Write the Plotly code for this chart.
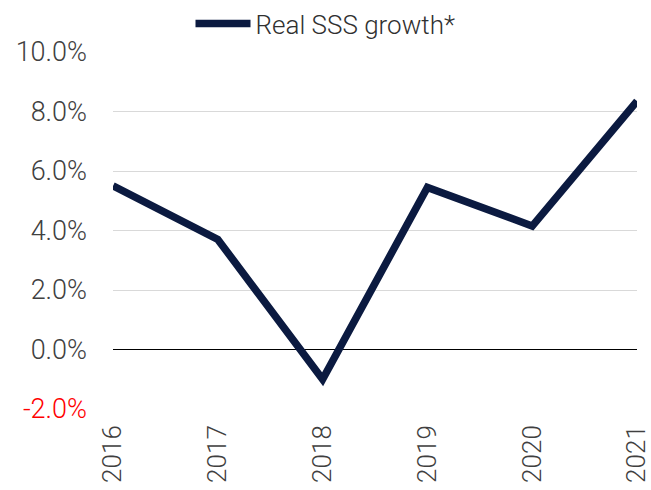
import plotly.graph_objs as go

years = ['2016', '2017', '2018', '2019', '2020', '2021']
real_sss_growth = [5.5, 3.7, -1.0, 5.45, 4.15, 8.35]

y_ticks = [-2, 0, 2, 4, 6, 8, 10]
y_ticktext = ['<span style="color:#ff0000">-2.0%</span>', '0.0%', '2.0%', '4.0%',
              '6.0%', '8.0%', '10.0%']

font_family = 'Roboto, Liberation Sans, Arial, sans-serif'

trace = go.Scatter(
    x=list(range(len(years))),
    y=real_sss_growth,
    mode='lines',
    name='Real SSS growth*',
    line=dict(color='#0b1a40', width=7.5),
)

layout = go.Layout(
    width=651,
    height=490,
    margin=dict(l=113, r=14, t=52, b=81),
    paper_bgcolor='white',
    plot_bgcolor='white',
    font=dict(family=font_family, size=26, color='#404040', weight=300),
    showlegend=True,
    legend=dict(
        orientation='h',
        x=0.5,
        xref='container',
        xanchor='center',
        y=1.0,
        yref='container',
        yanchor='top',
        font=dict(size=26, color='#303030', weight=300),
        itemwidth=55,
        bgcolor='rgba(0,0,0,0)',
    ),
    xaxis=dict(
        tickmode='array',
        tickvals=list(range(len(years))),
        ticktext=years,
        tickangle=-90,
        range=[0, len(years) - 1],
        showgrid=False,
        zeroline=False,
        showline=False,
        ticks='',
        ticklabelstandoff=10,
        ticklabeloverflow='allow',
        automargin=False,
    ),
    yaxis=dict(
        tickmode='array',
        tickvals=y_ticks,
        ticktext=y_ticktext,
        range=[-2, 10],
        showgrid=True,
        gridcolor='#d9d9d9',
        gridwidth=1,
        zeroline=True,
        zerolinecolor='#000000',
        zerolinewidth=1,
        showline=False,
        ticks='',
        tickfont=dict(size=27),
        ticklabelstandoff=25,
        automargin=False,
    ),
)

fig = go.Figure(data=[trace], layout=layout)
fig.write_html("out.html", config={'displayModeBar': False},
               post_script="document.body.style.margin='0';")
